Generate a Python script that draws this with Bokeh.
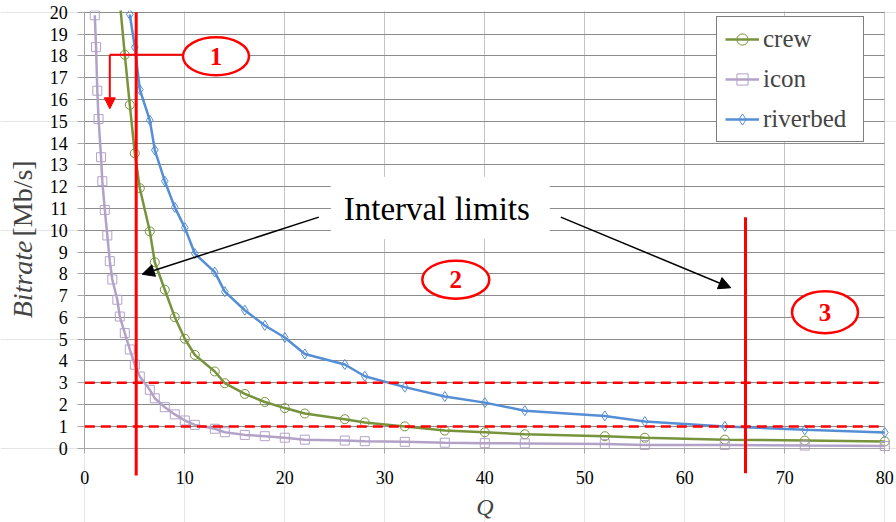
import math
from bokeh.plotting import figure
from bokeh.models import (Range1d, Arrow, NormalHead, Label, Legend, LegendItem,
                          FixedTicker, BoxAnnotation, LinearAxis, Grid, CDSView,
                          BooleanFilter, ColumnDataSource)
from bokeh.embed import file_html
from bokeh.resources import INLINE

# ---------------- data ----------------
crew_q = [3.5, 4.0, 4.5, 5.0, 5.5, 6.5, 7, 8, 9, 10, 11, 13, 14, 16, 18, 20, 22, 26, 28,
          32, 36, 40, 44, 52, 56, 64, 72, 80]
crew_rate = [20.5, 18.05, 15.75, 13.53, 11.93, 9.95, 8.53, 7.27, 6.01, 5.02, 4.28, 3.52, 2.98,
             2.49, 2.12, 1.84, 1.59, 1.33, 1.18, 1.0, 0.81, 0.73, 0.64, 0.55, 0.48, 0.39,
             0.35, 0.31]

icon_q = [1.0, 1.125, 1.25, 1.375, 1.625, 1.75, 2.0, 2.25, 2.5, 2.75, 3.25, 3.5, 4.0, 4.5,
          5.0, 5.5, 6.5, 7, 8, 9, 10, 11, 13, 14, 16, 18, 20, 22, 26, 28, 32, 36, 40, 44,
          52, 56, 64, 72, 80]
icon_rate = [19.86, 18.4, 16.4, 15.1, 13.35, 12.25, 10.93, 9.76, 8.58, 7.74, 6.81, 6.04, 5.28,
             4.53, 3.83, 3.29, 2.68, 2.29, 1.88, 1.55, 1.27, 1.07, 0.89, 0.73, 0.61, 0.55,
             0.48, 0.39, 0.35, 0.32, 0.29, 0.25, 0.23, 0.22, 0.19, 0.15, 0.15, 0.12, 0.10]

riverbed_q = [4.5, 5, 5.5, 6.5, 7, 8, 9, 10, 11, 13, 14, 16, 18, 20, 22, 26, 28, 32, 36, 40,
              44, 52, 56, 64, 72, 80]
riverbed_rate = [19.9, 18.4, 16.45, 15.05, 13.68, 12.25, 11.05, 10.12, 8.93, 8.08, 7.18, 6.33,
                 5.63, 5.08, 4.32, 3.84, 3.3, 2.8, 2.37, 2.09, 1.72, 1.48, 1.22, 1.0, 0.84,
                 0.72]

x_ticks = [0, 10, 20, 30, 40, 50, 60, 70, 80]
y_ticks = list(range(0, 21))
X_MIN, X_MAX = 0, 80
Y_MIN, Y_MAX = 0, 20
thresholds = [3, 1]          # dashed rate limits
interval_q = [5.14, 66.07]   # vertical interval limits

FONT = "Liberation Serif"
GREEN = "#77933C"
PURPLE = "#B3A2C7"
BLUE = "#558ED5"
RED = "#FF0000"

W, H = 896, 522
# the frame covers the whole canvas; axes are pinned at x=0 / y=0
p = figure(width=W, height=H, x_range=Range1d(-8.43, 81.17), y_range=Range1d(-3.41, 20.54),
           output_backend="svg", toolbar_location=None,
           x_axis_location=None, y_axis_location=None, min_border=0)
p.outline_line_color = None
p.background_fill_color = "white"
p.border_fill_color = "white"

# grids limited to the plot area
hgrid = Grid(dimension=1, ticker=FixedTicker(ticks=y_ticks), bounds=(Y_MIN, Y_MAX),
             cross_bounds=(X_MIN, X_MAX), grid_line_color="#8C8C8C", grid_line_width=1)
vgrid = Grid(dimension=0, ticker=FixedTicker(ticks=x_ticks), bounds=(X_MIN, X_MAX),
             cross_bounds=(Y_MIN, Y_MAX), grid_line_color="#C4C4C4", grid_line_width=1)
p.add_layout(vgrid)
p.add_layout(hgrid)

# white box behind "Interval limits"
p.add_layout(BoxAnnotation(left=24.6, right=46.5, bottom=9.6, top=12.45,
                           fill_color="white", fill_alpha=1.0, line_color=None,
                           level="underlay"))

# axes
yaxis = LinearAxis(fixed_location=X_MIN, bounds=(Y_MIN, Y_MAX),
                   ticker=FixedTicker(ticks=y_ticks))
xaxis = LinearAxis(fixed_location=Y_MIN, bounds=(X_MIN, X_MAX),
                   ticker=FixedTicker(ticks=x_ticks))
for ax in (xaxis, yaxis):
    ax.major_label_text_font = FONT
    ax.major_label_text_font_size = "18px"
    ax.major_label_text_color = "black"
    ax.axis_line_color = "#A6A6A6"
    ax.major_tick_line_color = "#A6A6A6"
    ax.minor_tick_line_color = None
    ax.major_tick_in = 0
yaxis.major_tick_out = 7
xaxis.major_tick_out = 5
yaxis.major_label_standoff = 10
xaxis.major_label_standoff = 18
p.add_layout(yaxis, "left")
p.add_layout(xaxis, "below")

# series
def add_series(q, v, color, marker, size):
    src = ColumnDataSource(dict(q=q, v=v))
    view = CDSView(filter=BooleanFilter([val <= Y_MAX for val in v]))
    rl = p.line("q", "v", source=src, line_color=color, line_width=2.5)
    rs = p.scatter("q", "v", source=src, view=view, marker=marker, size=size,
                   line_color=color, fill_color=None, line_width=1)
    return rl, rs

r_c = add_series(crew_q, crew_rate, GREEN, "circle", 9)
r_i = add_series(icon_q, icon_rate, PURPLE, "square", 9)
r_r = add_series(riverbed_q, riverbed_rate, BLUE, "diamond", 10)

# the plot area ends at the top gridline
p.add_layout(BoxAnnotation(left=X_MIN - 0.5, right=X_MAX + 2, bottom=Y_MAX + 0.08,
                           fill_color="white", fill_alpha=1.0, line_color=None))

# dashed horizontal limits across the plot area
for t in thresholds:
    p.add_layout(Arrow(end=None, x_start=X_MIN, y_start=t, x_end=X_MAX, y_end=t,
                       line_color=RED, line_width=2.5, line_dash="10 6"))

# vertical interval limits (extend below the axis)
p.add_layout(Arrow(end=None, x_start=interval_q[0], y_start=Y_MAX, x_end=interval_q[0],
                   y_end=-1.25, line_color=RED, line_width=3))
p.add_layout(Arrow(end=None, x_start=interval_q[1], y_start=10.6, x_end=interval_q[1],
                   y_end=-1.15, line_color=RED, line_width=3))

# region ellipses with numbers
ell_x = [13.12, 37.1, 74.02]
ell_y = [17.98, 7.73, 6.24]
ell_w = [66, 67, 66]
ell_h = [38, 38, 42]
p.ellipse(ell_x, ell_y, width=ell_w, height=ell_h, width_units="screen",
          height_units="screen", fill_color="white", line_color=RED, line_width=2.5)
for ex, ey, t in zip(ell_x, ell_y, ["1", "2", "3"]):
    p.add_layout(Label(x=ex, y=ey, text=t, text_font=FONT, text_font_style="bold",
                       text_font_size="25px", text_color=RED, text_align="center",
                       text_baseline="middle"))

# red elbow arrow from region 1
p.add_layout(Arrow(end=None, x_start=9.84, y_start=18.05, x_end=2.5, y_end=18.05,
                   line_color=RED, line_width=2))
p.add_layout(Arrow(end=NormalHead(size=11, fill_color=RED, line_color=RED, line_width=1),
                   x_start=2.5, y_start=18.05, x_end=2.5, y_end=15.57,
                   line_color=RED, line_width=2))

# "Interval limits" callout
p.add_layout(Label(x=35.2, y=10.98, text="Interval limits", text_font=FONT,
                   text_font_size="33px", text_color="black", text_align="center",
                   text_baseline="middle"))
p.add_layout(Arrow(end=NormalHead(size=12, fill_color="black", line_color="black"),
                   x_start=23.4, y_start=10.6, x_end=5.74, y_end=7.98,
                   line_color="black", line_width=1.5))
p.add_layout(Arrow(end=NormalHead(size=12, fill_color="black", line_color="black"),
                   x_start=47.6, y_start=10.6, x_end=64.6, y_end=7.36,
                   line_color="black", line_width=1.5))

# axis titles
p.add_layout(Label(x=-6.23, y=9.53, text="Bitrate", text_font=FONT, text_font_style="italic",
                   text_font_size="28px", angle=math.pi / 2, text_align="right",
                   text_baseline="middle"))
p.add_layout(Label(x=-6.23, y=9.71, text="[Mb/s]", text_font=FONT, text_font_size="28px",
                   angle=math.pi / 2, text_align="left", text_baseline="middle"))
p.add_layout(Label(x=40, y=-2.72, text="Q", text_font=FONT, text_font_style="italic",
                   text_font_size="24px", text_align="center", text_baseline="middle"))

legend = Legend(items=[LegendItem(label="crew", renderers=list(r_c)),
                       LegendItem(label="icon", renderers=list(r_i)),
                       LegendItem(label="riverbed", renderers=list(r_r))],
                location=(716, 380))
legend.label_text_font = FONT
legend.label_text_font_size = "25px"
legend.glyph_width = 34
legend.glyph_height = 28
legend.label_height = 28
legend.label_width = 92
legend.label_standoff = 4
legend.spacing = 12
legend.padding = 8
legend.margin = 0
legend.border_line_color = "black"
legend.border_line_width = 1
legend.background_fill_color = "white"
legend.background_fill_alpha = 1.0
p.add_layout(legend)

open("out.html", "w").write(file_html(p, INLINE))
